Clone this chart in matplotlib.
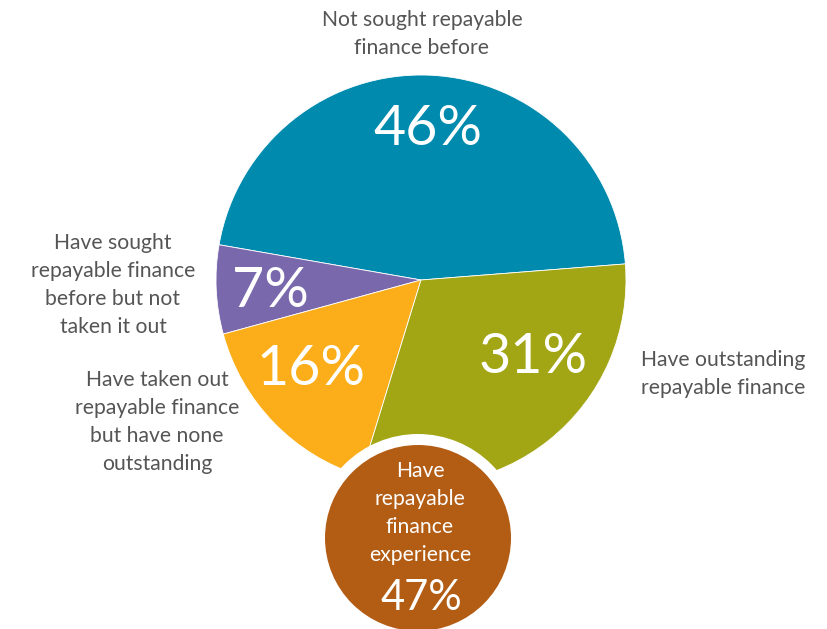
import matplotlib.pyplot as plt
from matplotlib.patches import Circle

# Shares of respondents by repayable finance history
labels = ['Not sought repayable\nfinance before',
          'Have sought\nrepayable finance\nbefore but not\ntaken it out',
          'Have taken out\nrepayable finance\nbut have none\noutstanding',
          'Have outstanding\nrepayable finance']
shares = [46, 7, 16, 31]
colors = ['#008AAE', '#7A68AD', '#FBAE19', '#A3A614']
experience_label = 'Have\nrepayable\nfinance\nexperience'
experience_share = 47

W, H = 828, 629
fig = plt.figure(figsize=(W / 100, H / 100), dpi=100)
ax = fig.add_axes([0, 0, 1, 1])

font = 'Lato'
grey = '#555555'

cx, cy, r = 421, H - 280, 205
ax.pie(shares, colors=colors, startangle=4.5, counterclock=True,
       center=(cx, cy), radius=r, frame=True,
       wedgeprops=dict(linewidth=0.6, edgecolor='white'))
ax.set_xlim(0, W)
ax.set_ylim(0, H)
ax.set_aspect('equal')
ax.axis('off')

# percentage labels inside the slices
pct_pos = [(428, 130), (270, 292), (311, 370), (533, 358)]
for s, (x, y) in zip(shares, pct_pos):
    ax.text(x, H - y, f'{s}%', color='white', fontsize=40, family=font,
            fontweight='normal', ha='center', va='center')

# category labels around the pie
lab_pos = [(422, 34, 'center'), (113, 285, 'center'),
           (157, 422, 'center'), (641, 374, 'left')]
for lab, (x, y, ha) in zip(labels, lab_pos):
    ax.text(x, H - y, lab, color=grey, fontsize=15.2, family=font,
            ha=ha, va='center', multialignment='center', linespacing=1.5)

# summary bubble for everyone with repayable finance experience
bx, by, br = 418, H - 538, 93
ax.add_patch(Circle((bx, by), br + 11, facecolor='white', edgecolor='none', zorder=3))
ax.add_patch(Circle((bx, by), br, facecolor='#B35C14', edgecolor='none', zorder=4))
ax.text(bx + 2, H - 513, experience_label, color='white', fontsize=15.2,
        family=font, ha='center', va='center', linespacing=1.5, zorder=5)
ax.text(bx + 3, H - 598, f'{experience_share}%', color='white', fontsize=30,
        family=font, fontweight='normal', ha='center', va='center', zorder=5)

fig.savefig('out.png', dpi=100)
